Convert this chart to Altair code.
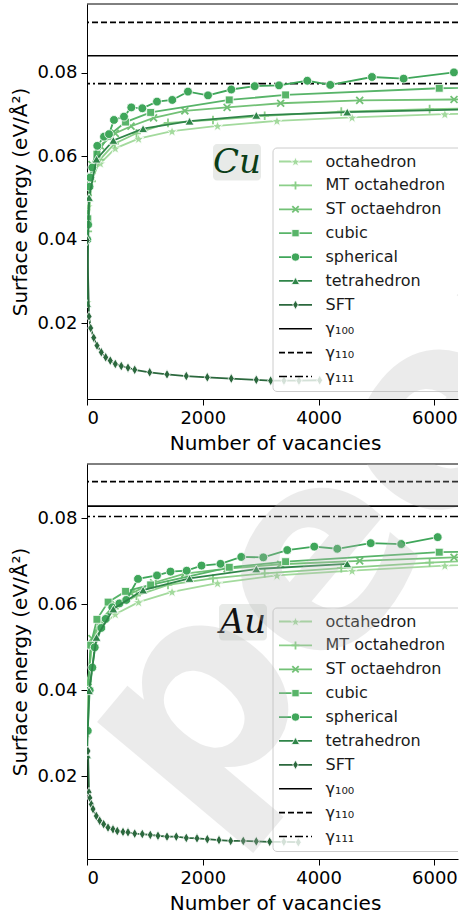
import math
import altair as alt
import pandas as pd

# ---------------- data ----------------
series_names = ["octahedron", "MT octahedron", "ST octaehdron", "cubic",
                "spherical", "tetrahedron", "SFT"]

# Cu
cu_oct_x = [1, 19, 85, 231, 489, 891, 1469, 2255, 3281, 4579, 6181, 8119]
cu_oct_y = [0.0250, 0.0480, 0.0557, 0.0583, 0.0619, 0.0642, 0.0660, 0.0673, 0.0685, 0.0693, 0.0701, 0.0706]
cu_mt_x = [13, 79, 225, 475, 855, 1399, 2176, 3069, 4392, 5918, 7700]
cu_mt_y = [0.0420, 0.0540, 0.0592, 0.0630, 0.0655, 0.0680, 0.0687, 0.0697, 0.0707, 0.0713, 0.0718]
cu_st_x = [19, 85, 231, 489, 760, 1150, 1690, 2420, 3345, 4710, 6340, 8200]
cu_st_y = [0.0500, 0.0580, 0.0625, 0.0655, 0.0672, 0.0692, 0.0709, 0.0717, 0.0727, 0.0734, 0.0736, 0.0740]
cu_cub_x = [14, 63, 172, 365, 666, 1099, 2457, 3430, 6084, 7813]
cu_cub_y = [0.0450, 0.0550, 0.0605, 0.0648, 0.0682, 0.0705, 0.0735, 0.0747, 0.0763, 0.0769]
cu_sph_x = [5, 19, 43, 57, 92, 178, 294, 380, 466, 639, 765, 955, 1209, 1473, 1744,
            2090, 2492, 2896, 3316, 3805, 4202, 4922, 5469, 6338]
cu_sph_y = [0.0400, 0.0436, 0.0527, 0.0549, 0.0573, 0.0625, 0.0647, 0.0653, 0.0687, 0.0695, 0.0717,
            0.0715, 0.0731, 0.0735, 0.0755, 0.0746, 0.0760, 0.0768, 0.0770, 0.0781, 0.0771, 0.0790,
            0.0786, 0.0801]
cu_tet_x = [1, 35, 165, 455, 969, 1771, 2925, 4495, 6545]
cu_tet_y = [0.0247, 0.0501, 0.0593, 0.0638, 0.0666, 0.0684, 0.0698, 0.0706, 0.0712]
cu_sft_x = [3, 35, 64, 116, 173, 247, 323, 402, 489, 592, 708, 824, 1083, 1382, 1715,
            2078, 2492, 2924, 3172, 3402, 3661, 4019]
cu_sft_y = [0.0398, 0.0216, 0.0188, 0.0165, 0.0146, 0.0130, 0.0118, 0.0110, 0.0102, 0.0097,
            0.0093, 0.0088, 0.0082, 0.0077, 0.0073, 0.0070, 0.0067, 0.0064, 0.0062, 0.0062,
            0.0062, 0.0063]

# Au
au_oct_x = [1, 19, 85, 231, 489, 891, 1469, 2255, 3281, 4579, 6181, 8119]
au_oct_y = [0.0300, 0.0420, 0.0505, 0.0545, 0.0577, 0.0605, 0.0629, 0.0649, 0.0667, 0.0678, 0.0690, 0.0698]
au_mt_x = [13, 79, 225, 475, 855, 1399, 2176, 3069, 4392, 5918, 7700]
au_mt_y = [0.0400, 0.0510, 0.0556, 0.0590, 0.0620, 0.0645, 0.0660, 0.0672, 0.0684, 0.0697, 0.0706]
au_st_x = [19, 85, 231, 489, 760, 1150, 1690, 2420, 3345, 4710, 6340, 8200]
au_st_y = [0.0420, 0.0520, 0.0562, 0.0600, 0.0625, 0.0650, 0.0671, 0.0683, 0.0693, 0.0701, 0.0709, 0.0716]
au_cub_x = [14, 63, 172, 365, 666, 1099, 2457, 3430, 6084, 7813]
au_cub_y = [0.0400, 0.0505, 0.0565, 0.0605, 0.0630, 0.0645, 0.0686, 0.0699, 0.0721, 0.0726]
au_sph_x = [13, 46, 92, 133, 247, 323, 437, 560, 679, 881, 1209, 1442, 1722, 1978, 2306,
            2665, 3045, 3459, 3925, 4323, 4900, 5428, 6057]
au_sph_y = [0.0306, 0.0400, 0.0453, 0.0500, 0.0545, 0.0566, 0.0593, 0.0602, 0.0610, 0.0659,
            0.0667, 0.0676, 0.0678, 0.0690, 0.0694, 0.0710, 0.0709, 0.0726, 0.0734, 0.0729,
            0.0742, 0.0740, 0.0756]
au_tet_x = [1, 35, 165, 455, 969, 1771, 2925, 4495]
au_tet_y = [0.0250, 0.0399, 0.0523, 0.0589, 0.0633, 0.0660, 0.0682, 0.0694]
au_sft_x = [17, 35, 50, 75, 104, 161, 219, 288, 363, 449, 523, 622, 708, 824, 955, 1093, 1226,
            1382, 1542, 1715, 1900, 2078, 2280, 2482, 2699, 2924, 3155, 3400, 3650]
au_sft_y = [0.0259, 0.0163, 0.0150, 0.0135, 0.0124, 0.0108, 0.0097, 0.0089, 0.0081, 0.0077,
            0.0073, 0.0071, 0.0070, 0.0067, 0.0066, 0.0064, 0.0062, 0.0060, 0.0060, 0.0057,
            0.0056, 0.0054, 0.0052, 0.0050, 0.0050, 0.0049, 0.0048, 0.0048, 0.0047]

gamma_labels = ["γ₁₀₀", "γ₁₁₀", "γ₁₁₁"]
cu_gamma = [0.0841, 0.0921, 0.0774]
au_gamma = [0.0828, 0.0885, 0.0804]

x_ticks = [0, 2000, 4000, 6000]
y_ticks = [0.02, 0.04, 0.06, 0.08]
watermark_text = "Preprint not peer reviewed"

# ---------------- styles ----------------
colors = ["#a3da9d", "#8bcf89", "#72c176", "#58b469", "#3fa65a", "#2f8549", "#2b683d"]


def star_path(r_out=1.0, r_in=0.42):
    pts = []
    for k in range(10):
        r = r_out if k % 2 == 0 else r_in
        a = -math.pi / 2 + k * math.pi / 5
        pts.append((r * math.cos(a), r * math.sin(a) + 0.1))
    return "M" + "L".join(f"{px:.3f},{py:.3f}" for px, py in pts) + "Z"


shapes = [star_path(), "M-1,0L1,0M0,-1L0,1", "M-0.8,-0.8L0.8,0.8M-0.8,0.8L0.8,-0.8",
          "square", "circle", "triangle-up", "M0,-1.05L0.62,0L0,1.05L-0.62,0Z"]
filled = [True, False, False, True, True, True, True]
sizes = [120, 75, 75, 62, 78, 80, 90]
dashes = [[1, 0], [6, 3], [8, 3, 2, 3]]

PW, PH = 371, 395
FONT = "DejaVu Sans"


def make_panel(metal, data, gammas, ydom, text_color, box_x, wm_y):
    X = lambda: alt.X("x:Q", scale=alt.Scale(domain=[0, 6408], nice=False, zero=False),
                      axis=alt.Axis(values=x_ticks, format="d", title="Number of vacancies",
                                    titleX=188, grid=False))
    Y = lambda: alt.Y("y:Q", scale=alt.Scale(domain=ydom, nice=False, zero=False),
                      axis=alt.Axis(values=y_ticks, format=".2f", title="Surface energy (eV/Å²)",
                                    grid=False))
    layers = []
    for g, d in zip(gammas, dashes):
        gdf = pd.DataFrame({"y": [g]})
        layers.append(alt.Chart(gdf).mark_rule(color="black", strokeWidth=1.6, strokeDash=d)
                      .encode(y=Y()))
    for i, name in enumerate(series_names):
        xs, ys = data[i]
        df = pd.DataFrame({"x": xs, "y": ys, "series": name})
        base = alt.Chart(df)
        layers.append(base.mark_line(color=colors[i], strokeWidth=1.8, clip=True)
                      .encode(x=X(), y=Y(), order="x:Q"))
        if filled[i]:
            pt = base.mark_point(shape=shapes[i], filled=True, fill=colors[i], stroke="white",
                                 strokeWidth=0.8, size=sizes[i], opacity=1, clip=True)
        else:
            pt = base.mark_point(shape=shapes[i], filled=False, stroke=colors[i],
                                 strokeWidth=1.8, size=sizes[i], opacity=1, clip=True)
        layers.append(pt.encode(x=X(), y=Y()))
    one = pd.DataFrame({"a": [0]})
    layers.append(alt.Chart(one).mark_rule(color="black", strokeWidth=1)
                  .encode(x=alt.value(0), x2=alt.value(PW), y=alt.value(0)))
    layers.append(alt.Chart(one).mark_rect(fill="#e6e8e6", cornerRadius=4, opacity=0.9)
                  .encode(x=alt.value(box_x), x2=alt.value(box_x + 48),
                          y=alt.value(140), y2=alt.value(176.5)))
    layers.append(alt.Chart(pd.DataFrame({"t": [metal]})).mark_text(
        font="DejaVu Serif", fontStyle="italic", fontSize=34, color=text_color,
        align="center", baseline="middle")
        .encode(text="t:N", x=alt.value(box_x + 24), y=alt.value(159)))
    main = alt.layer(*layers)

    leg_rows = series_names + gamma_labels
    ldf = pd.DataFrame({"label": leg_rows, "row": list(range(len(leg_rows)))})
    LY = lambda: alt.Y("row:Q", scale=alt.Scale(domain=[0, 9], range=[157.5, 372.5]), axis=None)
    leg = [alt.Chart(one).mark_rect(fill="white", fillOpacity=0.8, stroke="#cccccc",
                                    strokeWidth=1, cornerRadius=4, clip=True)
           .encode(x=alt.value(186), x2=alt.value(400), y=alt.value(144), y2=alt.value(387.5))]
    for i, name in enumerate(leg_rows):
        sub = alt.Chart(ldf).transform_filter(alt.datum.row == i)
        if i < 7:
            leg.append(sub.mark_rule(color=colors[i], strokeWidth=1.8)
                       .encode(x=alt.value(192), x2=alt.value(225), y=LY()))
            if filled[i]:
                p = sub.mark_point(shape=shapes[i], filled=True, fill=colors[i], stroke="white",
                                   strokeWidth=0.8, size=sizes[i] * 0.85, opacity=1)
            else:
                p = sub.mark_point(shape=shapes[i], filled=False, stroke=colors[i],
                                   strokeWidth=1.8, size=sizes[i] * 0.85, opacity=1)
            leg.append(p.encode(x=alt.value(208.5), y=LY()))
        else:
            leg.append(sub.mark_rule(color="black", strokeWidth=1.6, strokeDash=dashes[i - 7])
                       .encode(x=alt.value(192), x2=alt.value(225), y=LY()))
    leg.append(alt.Chart(ldf).mark_text(align="left", baseline="middle", fontSize=16,
                                        font=FONT, color="#1a1a1a")
               .encode(text="label:N", x=alt.value(238.5), y=LY()))
    # watermark (drawn on top, semi-transparent, clipped to the plot like the page crop)
    leg.append(alt.Chart(pd.DataFrame({"t": [watermark_text]})).mark_text(
        font=FONT, fontWeight="bold", fontSize=270, angle=310, align="center",
        baseline="alphabetic", color="#b8b8b8", opacity=0.27, clip=True)
        .encode(text="t:N", x=alt.value(182.9), y=alt.value(wm_y)))
    legend = alt.layer(*leg)

    return alt.layer(main, legend).resolve_scale(y="independent").properties(
        width=PW, height=PH)


cu_data = [(cu_oct_x, cu_oct_y), (cu_mt_x, cu_mt_y), (cu_st_x, cu_st_y), (cu_cub_x, cu_cub_y),
           (cu_sph_x, cu_sph_y), (cu_tet_x, cu_tet_y), (cu_sft_x, cu_sft_y)]
au_data = [(au_oct_x, au_oct_y), (au_mt_x, au_mt_y), (au_st_x, au_st_y), (au_cub_x, au_cub_y),
           (au_sph_x, au_sph_y), (au_tet_x, au_tet_y), (au_sft_x, au_sft_y)]

cu_panel = make_panel("Cu", cu_data, cu_gamma, [0.0018, 0.0965], "#0b3d17", 126, 743.6)
au_panel = make_panel("Au", au_data, au_gamma, [0.0008, 0.0926], "#111111", 132, 281.6)

chart = alt.vconcat(cu_panel, au_panel, spacing=10).properties(
    padding={"left": 10, "top": 3, "right": 0, "bottom": 0}
).configure(background="white").configure_view(stroke=None).configure_axis(
    domainColor="black", domainWidth=1, tickColor="black", tickWidth=1, tickSize=6,
    labelColor="black", titleColor="black", labelFont=FONT, titleFont=FONT,
    labelFontSize=18, titleFontSize=20, labelPadding=4, titleFontWeight="normal",
    titlePadding=6
)

chart.save("out.html", embed_options={"renderer": "svg", "actions": False})
